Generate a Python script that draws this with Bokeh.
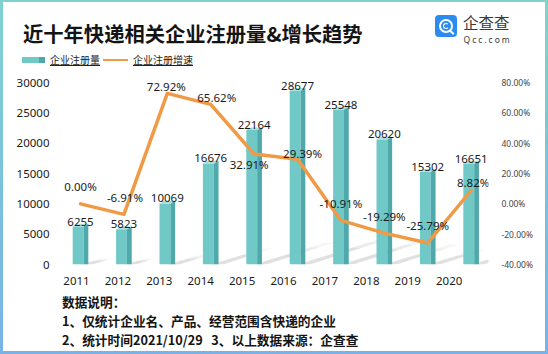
from bokeh.plotting import figure
from bokeh.models import (ColumnDataSource, Range1d, LinearAxis, FixedTicker, Div,
                          NumeralTickFormatter)
from bokeh.layouts import column
from bokeh.core.properties import value
from bokeh.embed import file_html
from bokeh.resources import INLINE

# ---------------- data ----------------
years = ["2011", "2012", "2013", "2014", "2015", "2016", "2017", "2018", "2019", "2020"]
registrations = [6255, 5823, 10069, 16676, 22164, 28677, 25548, 20620, 15302, 16651]
growth_pct = [0.00, -6.91, 72.92, 65.62, 32.91, 29.39, -10.91, -19.29, -25.79, 8.82]
growth_labels = ["0.00%", "-6.91%", "72.92%", "65.62%", "32.91%", "29.39%",
                 "-10.91%", "-19.29%", "-25.79%", "8.82%"]
left_ticks = [0, 5000, 10000, 15000, 20000, 25000, 30000]
right_ticks = [-0.40, -0.20, 0.0, 0.20, 0.40, 0.60, 0.80]

title_text = "近十年快递相关企业注册量&amp;增长趋势"
legend_bar = "企业注册量"
legend_line = "企业注册增速"
logo_cn = "企查查"
logo_en = "Qcc.com"
notes = ["数据说明：",
         "1、仅统计企业名、产品、经营范围含快递的企业",
         "2、统计时间2021/10/29&nbsp;&nbsp;&nbsp;3、以上数据来源：企查查"]

# ---------------- style ----------------
W = 548
HEAD_H, FIG_H, FOOT_H = 70, 222, 62
CJK = "Noto Sans CJK SC"
FRONT, SIDE, TOP = "#70c8c7", "#4fa9ab", "#a9dedc"
ORANGE = "#f09a45"

idx = list(range(len(years)))

# x_range drives the category axis labels, "bars" range places the (3D-perspective) marks
p = figure(width=W, height=FIG_H, output_backend="svg", toolbar_location=None,
           x_range=Range1d(-0.338, 9.95), y_range=Range1d(0, 31500),
           min_border_left=62, min_border_right=60, min_border_top=3,
           min_border_bottom=28, tools="")
p.title.text = ""
p.extra_x_ranges = {"bars": Range1d(-0.415, 9.40)}
p.extra_y_ranges = {"pct": Range1d(-0.40, 0.86)}
p.outline_line_color = None
p.grid.grid_line_color = None
p.background_fill_color = "white"
p.border_fill_color = "white"

# axes
p.yaxis.ticker = FixedTicker(ticks=left_ticks)
p.xaxis.ticker = FixedTicker(ticks=idx)
p.xaxis.major_label_overrides = {i: y for i, y in zip(idx, years)}
for ax in (p.xaxis[0], p.yaxis[0]):
    ax.axis_line_color = None
    ax.major_tick_line_color = None
    ax.minor_tick_line_color = None
    ax.major_label_text_font = "Noto Sans"
    ax.major_label_text_font_size = "11.5px"
    ax.major_label_text_color = "#1a1a1a"
p.yaxis.major_label_standoff = 7
p.xaxis.major_label_standoff = 6

ra = LinearAxis(y_range_name="pct", ticker=FixedTicker(ticks=right_ticks),
                formatter=NumeralTickFormatter(format="0.00%"))
ra.axis_line_color = None
ra.major_tick_line_color = None
ra.minor_tick_line_color = None
ra.major_label_text_font = "Noto Sans"
ra.major_label_text_font_size = "8.5px"
ra.major_label_text_color = "#444444"
ra.major_label_standoff = 7
p.add_layout(ra, "right")

# ---------------- bars (pseudo 3D) ----------------
dy = 450
fw_l, fw_r, sd_r = -0.18, 0.07, 0.18
# soft floor shadows
for scale, alpha in [(1.0, 0.035), (0.8, 0.04), (0.6, 0.05)]:
    sx, sy = [], []
    for i, v in zip(idx, registrations):
        k = 7e-5 * v * scale
        m = 0.16 * v * scale
        sx.append([i + 0.0, i + 0.28, i + 0.28 + k, i + 0.05 + k])
        sy.append([0, 0, m, m])
    p.patches(sx, sy, x_range_name="bars", fill_color="#000000", fill_alpha=alpha,
              line_color=None)

bar_src = ColumnDataSource(dict(
    left=[i + fw_l for i in idx], right=[i + fw_r for i in idx],
    top=registrations, bottom=[0] * len(idx)))
p.quad(left="left", right="right", top="top", bottom="bottom", source=bar_src,
       x_range_name="bars", fill_color=FRONT, line_color=None)
p.patches([[i + fw_r, i + sd_r, i + sd_r, i + fw_r] for i in idx],
          [[0, 0, v + dy, v] for v in registrations],
          x_range_name="bars", fill_color=SIDE, line_color=None)
p.patches([[i + fw_l, i + fw_r, i + sd_r, i + fw_l + (sd_r - fw_r)] for i in idx],
          [[v, v, v + dy, v + dy] for v in registrations],
          x_range_name="bars", fill_color=TOP, line_color=None)

# bar value labels
p.text(x=idx, y=registrations, text=[str(v) for v in registrations],
       x_range_name="bars",
       text_font=value("Noto Sans"), text_font_size="11.5px", text_align="center",
       text_baseline="alphabetic", y_offset=-5, text_color="#1a1a1a")

# ---------------- growth line ----------------
g = [v / 100 for v in growth_pct]
p.line(idx, g, x_range_name="bars", y_range_name="pct", line_color=ORANGE,
       line_width=3.5, line_join="round", line_cap="round")

lab_dx = [0, 1, -1, 6, -5, 5, 0, 0, 0, 2]
lab_dy = [-17, -17, -7, -7, 11, -6, -17, -17, -17, -8]
p.text(x=idx, y=g, text=growth_labels, x_range_name="bars", y_range_name="pct",
       x_offset=lab_dx, y_offset=lab_dy,
       text_font=value("Noto Sans"), text_font_size="11.5px", text_align="center",
       text_baseline="middle", text_color="#1a1a1a")

# ---------------- header / footer (HTML) ----------------
def span(x, y, text, size, color="#1a1a1a", bold=False, font=CJK, extra=""):
    return ('<span style="position:absolute;left:%spx;top:%spx;font-size:%spx;'
            'line-height:1;color:%s;font-weight:%d;font-family:\'%s\';'
            'white-space:nowrap;%s">%s</span>'
            % (x, y, size, color, 700 if bold else 400, font, extra, text))

def rect(x, y, w, h, css):
    return ('<div style="position:absolute;left:%spx;top:%spx;width:%spx;height:%spx;'
            'box-sizing:border-box;%s"></div>' % (x, y, w, h, css))

border = ('<div style="position:fixed;left:0;top:0;width:548px;height:354px;'
          'box-sizing:border-box;border-style:solid;border-width:2px 3px 3px 3px;'
          'border-image:linear-gradient(to bottom,#7fd3cf,#78b2e8) 1;'
          'pointer-events:none;z-index:50"></div>')

head_html = ('<div style="position:relative;width:%dpx;height:%dpx;background:white;">' % (W, HEAD_H)
             + span(23, 22.8, title_text, 20.3, "#141414", bold=True)
             + rect(22, 57, 23, 6, "background:linear-gradient(to right,%s 0%%,%s 75%%,%s 76%%,%s 100%%)"
                    % (FRONT, FRONT, SIDE, SIDE))
             + span(50, 55, legend_bar, 10, "#222222", extra="text-decoration:underline;")
             + rect(103, 58.8, 25, 2.6, "background:%s" % ORANGE)
             + span(133, 55, legend_line, 10, "#222222", extra="text-decoration:underline;")
             + rect(435, 15, 22, 22, "background:#2a8cf0;border-radius:4px")
             + rect(439, 19, 14, 14, "border:2px solid white;border-radius:50%")
             + rect(443, 23, 6, 6, "border:1.6px solid white;border-right-color:transparent;border-radius:50%")
             + rect(450.5, 30, 2, 5, "background:white;transform:rotate(-45deg)")
             + span(463, 15, logo_cn, 15.5, "#3a3a3a")
             + span(463.5, 36, logo_en, 8.5, "#3a3a3a", font="Noto Sans", extra="letter-spacing:2px;")
             + border
             + '</div>')

foot_html = ('<div style="position:relative;width:%dpx;height:%dpx;background:white;">' % (W, FOOT_H)
             + span(62, 3.6, notes[0], 12.7, "#141414", bold=True)
             + span(62, 22.6, notes[1], 12.7, "#141414", bold=True)
             + span(62, 41.6, notes[2], 12.7, "#141414", bold=True)
             + '</div>')

head = Div(text=head_html, width=W, height=HEAD_H, margin=0)
foot = Div(text=foot_html, width=W, height=FOOT_H, margin=0)

layout = column(head, p, foot, spacing=0)
open("out.html", "w").write(file_html(layout, INLINE))
